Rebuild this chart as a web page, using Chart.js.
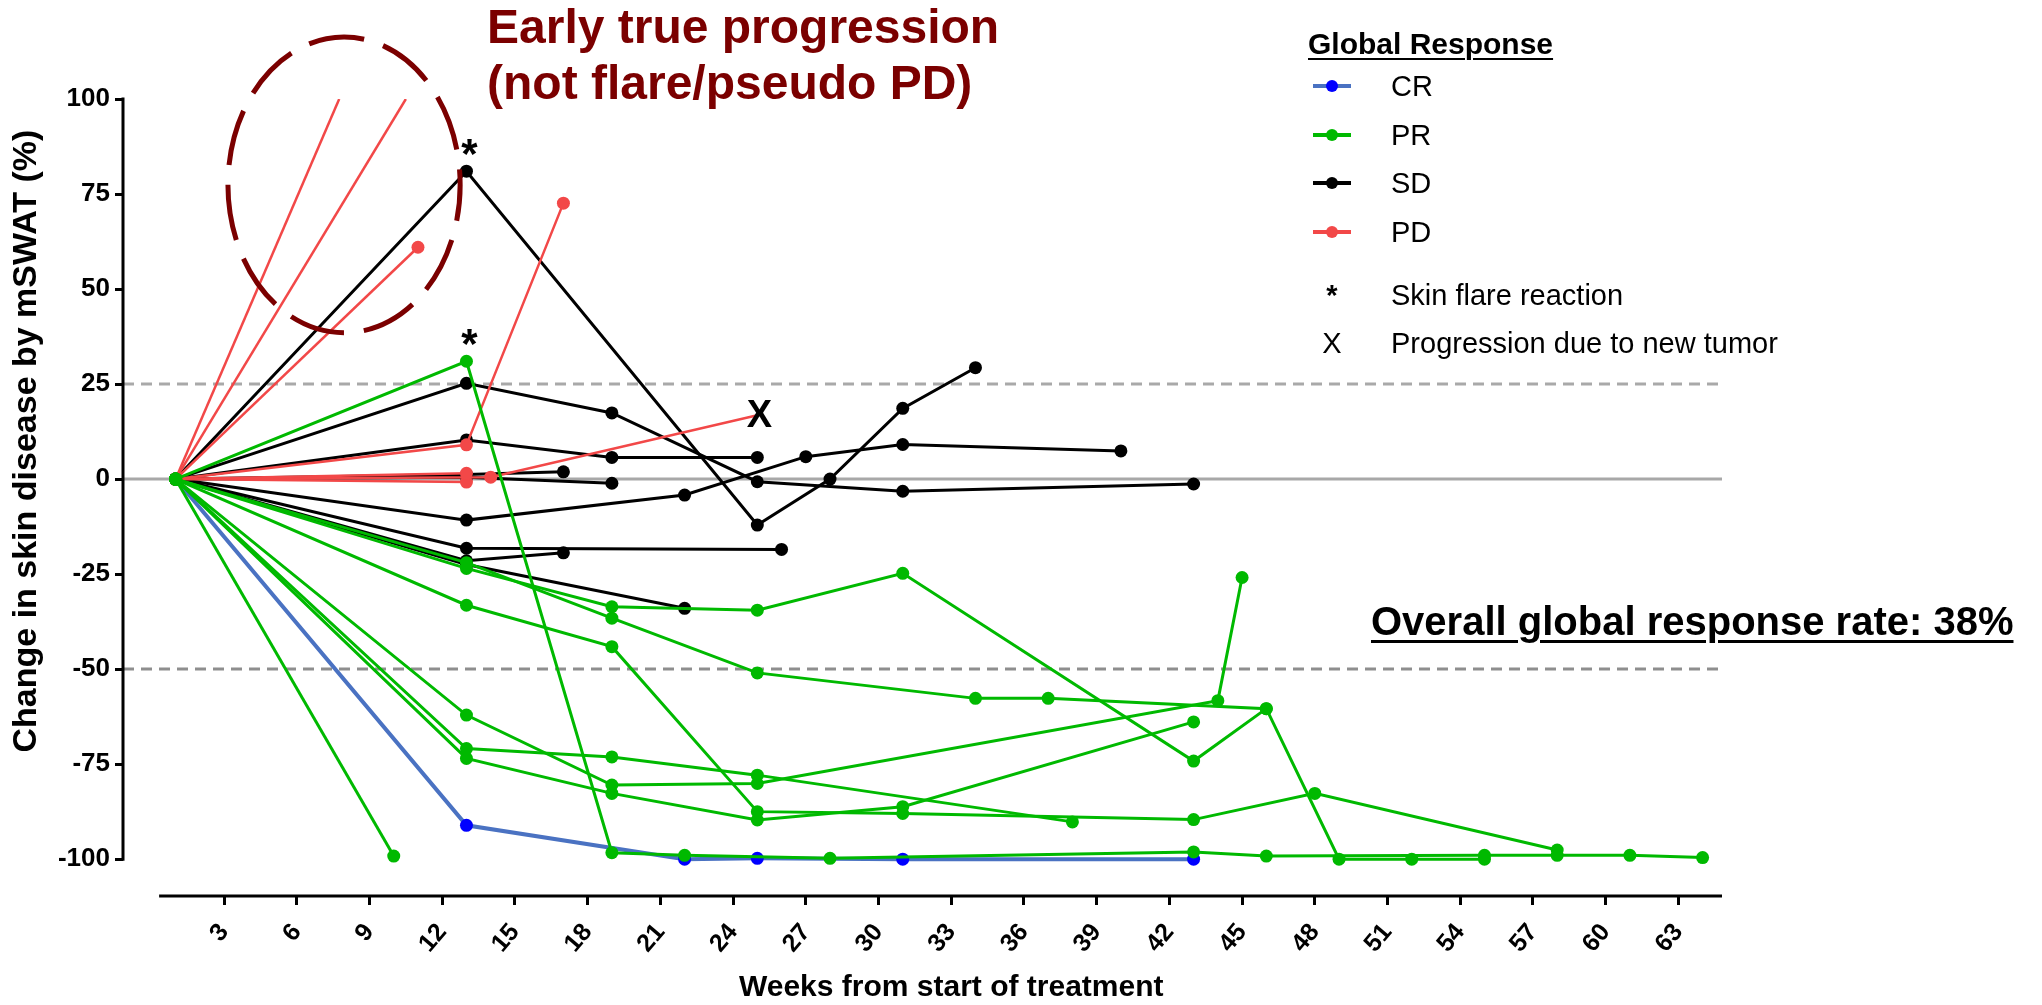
<!DOCTYPE html>
<html>
<head>
<meta charset="utf-8">
<title>Change in skin disease by mSWAT</title>
<script src="https://cdn.jsdelivr.net/npm/chart.js@4.4.1/dist/chart.umd.min.js"></script>
<style>
  html, body { margin: 0; padding: 0; background: #fff; }
  body { font-family: "Liberation Sans", Arial, Helvetica, sans-serif; color: #000; }
  .page { position: relative; width: 2042px; height: 1005px; overflow: hidden; }
  #chart { position: absolute; left: 0; top: 0; }
  .callout { position: absolute; left: 487px; top: -1px; color: #7b0000; font-weight: bold; font-size: 48px; line-height: 56px; white-space: nowrap; }
  .legend-head { position: absolute; left: 1308px; top: 27px; font-weight: bold; font-size: 30px; line-height: 34px; text-decoration: underline; text-decoration-thickness: 2px; text-underline-offset: 4px; white-space: nowrap; }
  .legend-row { position: absolute; left: 1313px; height: 34px; display: flex; align-items: center; font-size: 29px; line-height: 34px; white-space: nowrap; }
  .swatch { position: relative; width: 38px; height: 34px; margin-right: 40px; }
  .swatch .ln { position: absolute; left: 0; right: 0; top: 15px; height: 4px; }
  .swatch .dot { position: absolute; left: 13px; top: 11px; width: 12px; height: 12px; border-radius: 50%; }
  .swatch .sym { position: absolute; left: 0; right: 0; top: 0; text-align: center; }
  .rate { position: absolute; left: 1371px; top: 598px; font-weight: bold; font-size: 40px; line-height: 46px; text-decoration: underline; text-decoration-thickness: 3px; text-underline-offset: 5px; white-space: nowrap; }
</style>
</head>
<body>
<div class="page">
  <canvas id="chart" width="2042" height="1005"></canvas>
  <div class="callout">Early true progression<br>(not flare/pseudo PD)</div>
  <div class="legend-head">Global Response</div>
  <div id="legend"></div>
  <div class="rate">Overall global response rate: 38%</div>
</div>

<script>
// weeks on x, % change in mSWAT on y; every patient starts at week 1, 0%
const xTicks = [3, 6, 9, 12, 15, 18, 21, 24, 27, 30, 33, 36, 39, 42, 45, 48, 51, 54, 57, 60, 63];
const yTicks = [100, 75, 50, 25, 0, -25, -50, -75, -100];
const refValues = [25, 0, -50];
const xTitle = 'Weeks from start of treatment';
const yTitle = 'Change in skin disease by mSWAT (%)';

const crPatients = [
    [[1, 0], [13, -91.1], [22, -100], [25, -99.8], [31, -100], [43, -100]]
];

const prPatients = [
    [[1, 0], [10, -99.2]],
    [[1, 0], [13, 31], [19, -98.3], [22, -99], [28, -99.8], [43, -98.1], [46, -99.2], [55, -99], [58, -99], [61, -99], [64, -99.6]],
    [[1, 0], [13, -23.5], [19, -33.6], [25, -34.5], [31, -24.8], [43, -74.2], [46, -60.4]],
    [[1, 0], [13, -22], [19, -36.6], [25, -51], [34, -57.7], [37, -57.7], [46, -60.4], [49, -100], [52, -100], [55, -100]],
    [[1, 0], [13, -33.2], [19, -44.1], [25, -87.5], [31, -88], [43, -89.6], [48, -82.7], [58, -97.6]],
    [[1, 0], [13, -62.1], [19, -80.5], [25, -80.1], [44, -58.3], [45, -25.9]],
    [[1, 0], [13, -70.9], [19, -73.1], [25, -77.9], [38, -90.2]],
    [[1, 0], [13, -73.5], [19, -82.7], [25, -89.7], [31, -86.2], [43, -63.9]]
];

const sdPatients = [
    [[1, 0], [13, 81], [25, -12.1], [28, 0], [31, 18.6], [34, 29.3]],
    [[1, 0], [13, 25.2], [19, 17.4], [25, -0.7], [31, -3.2], [43, -1.3]],
    [[1, 0], [13, 10.3], [19, 5.7], [25, 5.7]],
    [[1, 0], [13, 1.2], [17, 1.9]],
    [[1, 0], [13, 0.5], [19, -1.1]],
    [[1, 0], [13, -10.8], [22, -4.2], [27, 5.9], [31, 9.1], [40, 7.4]],
    [[1, 0], [13, -18.2], [26, -18.5]],
    [[1, 0], [13, -21.5], [17, -19.4]],
    [[1, 0], [13, -22.5], [22, -34]]
];

// the two steepest PD lines leave the plot at 100%
const pdPatients = [
    [[1, 0], [7.75, 100]],
    [[1, 0], [10.5, 100]],
    [[1, 0], [11, 61]],
    [[1, 0], [13, 9], [17, 72.6]],
    [[1, 0], [13, 1.5]],
    [[1, 0], [13, -0.8]],
    [[1, 0], [14, 0.5], [25, 16.8]]
];

const flarePoints = [[13, 81], [13, 31]];
const newTumorPoint = [25, 16.8];
// dashed ring: centre week, centre %, half width (weeks), half height (%)
const progressionRing = [7.95, 77.4, 4.79, 38.9];

const xMin = -1.17, xMax = 64.8, xAxisStart = 0.32;
const yMin = -109.7, yMax = 100;

const FONT = '"Liberation Sans", Arial, Helvetica, sans-serif';

const groups = [
    { label: 'PR', patients: prPatients, line: '#00b900', dot: '#00b900', width: 3, order: 1 },
    { label: 'CR', patients: crPatients, line: '#4a72c2', dot: '#0000ff', width: 4, order: 2 },
    { label: 'PD', patients: pdPatients, line: '#f24848', dot: '#f24848', width: 2.5, order: 3 },
    { label: 'SD', patients: sdPatients, line: '#000000', dot: '#000000', width: 3, order: 4 }
];

function hasMarker(pt) {
    if (pt[1] >= yMax) return false;
    if (pt[0] === newTumorPoint[0] && pt[1] === newTumorPoint[1]) return false;
    return true;
}

const datasets = [];
groups.forEach(g => {
    g.patients.forEach(p => {
        datasets.push({
            label: g.label,
            data: p.map(([x, y]) => ({ x, y })),
            showLine: true,
            tension: 0,
            borderColor: g.line,
            borderWidth: g.width,
            backgroundColor: g.dot,
            pointBackgroundColor: g.dot,
            pointBorderColor: g.dot,
            pointBorderWidth: 0,
            pointRadius: p.map(pt => hasMarker(pt) ? 6.5 : 0),
            pointHoverRadius: 0,
            order: g.order
        });
    });
});

// legend in the top right corner, over the plot
const legendRows = [
    { text: 'CR', line: '#4a72c2', dot: '#0000ff', y: 86 },
    { text: 'PR', line: '#00b900', dot: '#00b900', y: 135 },
    { text: 'SD', line: '#000000', dot: '#000000', y: 183 },
    { text: 'PD', line: '#f24848', dot: '#f24848', y: 232 },
    { text: 'Skin flare reaction', sym: '*', bold: true, y: 295 },
    { text: 'Progression due to new tumor', sym: 'X', y: 343 }
];
const legend = document.getElementById('legend');
legendRows.forEach(r => {
    const row = document.createElement('div');
    row.className = 'legend-row';
    row.style.top = (r.y - 17) + 'px';
    let swatch;
    if (r.sym) {
        swatch = `<span class="swatch"><span class="sym" style="font-weight:${r.bold ? 'bold' : 'normal'}">${r.sym}</span></span>`;
    } else {
        swatch = `<span class="swatch"><span class="ln" style="background:${r.line}"></span><span class="dot" style="background:${r.dot}"></span></span>`;
    }
    row.innerHTML = swatch + `<span>${r.text}</span>`;
    legend.appendChild(row);
});

const marks = {
    id: 'marks',
    beforeDatasetsDraw(chart) {
        const { ctx, chartArea, scales: { x, y } } = chart;
        ctx.save();
        ctx.lineWidth = 3;
        refValues.forEach(v => {
            const py = y.getPixelForValue(v);
            ctx.beginPath();
            if (v === 0) {
                ctx.setLineDash([]);
                ctx.strokeStyle = '#a8a8a8';
            } else {
                ctx.setLineDash([11, 7]);
                ctx.strokeStyle = v > 0 ? '#a9a9a9' : '#8e8e8e';
            }
            ctx.moveTo(chartArea.left, py);
            ctx.lineTo(x.getPixelForValue(xMax), py);
            ctx.stroke();
        });
        ctx.restore();
    },
    afterDatasetsDraw(chart) {
        const { ctx, chartArea, scales: { x, y } } = chart;
        ctx.save();

        // axis lines (y stops at -100, x starts just right of the y axis)
        ctx.strokeStyle = '#000';
        ctx.lineWidth = 3;
        ctx.setLineDash([]);
        ctx.beginPath();
        ctx.moveTo(chartArea.left, y.getPixelForValue(yMax) - 1.5);
        ctx.lineTo(chartArea.left, y.getPixelForValue(-100) + 1.5);
        ctx.stroke();
        ctx.beginPath();
        ctx.moveTo(x.getPixelForValue(xAxisStart), chartArea.bottom);
        ctx.lineTo(x.getPixelForValue(xMax), chartArea.bottom);
        ctx.stroke();

        // axis titles
        ctx.fillStyle = '#000';
        ctx.textAlign = 'center';
        ctx.textBaseline = 'middle';
        ctx.font = 'bold 30px ' + FONT;
        ctx.fillText(xTitle, x.getPixelForValue(33), 988);
        ctx.save();
        ctx.translate(27, y.getPixelForValue(10));
        ctx.rotate(-Math.PI / 2);
        ctx.font = 'bold 34px ' + FONT;
        ctx.fillText(yTitle, 0, 0);
        ctx.restore();

        // dashed ring round the early progressors
        const [cw, cv, hw, hv] = progressionRing;
        const cx = x.getPixelForValue(cw), cy = y.getPixelForValue(cv);
        const rx = x.getPixelForValue(cw + hw) - cx;
        const ry = cy - y.getPixelForValue(cv + hv);
        ctx.beginPath();
        ctx.strokeStyle = '#7b0000';
        ctx.lineWidth = 5;
        ctx.setLineDash([56, 20]);
        ctx.lineDashOffset = 20;
        ctx.ellipse(cx, cy, rx, ry, 0, 0, Math.PI * 2);
        ctx.stroke();
        ctx.setLineDash([]);

        // flare asterisks and the new-tumour X
        ctx.fillStyle = '#000';
        ctx.textAlign = 'center';
        ctx.textBaseline = 'alphabetic';
        ctx.font = 'bold 42px ' + FONT;
        flarePoints.forEach(([w, v]) => {
            ctx.fillText('*', x.getPixelForValue(w) + 3, y.getPixelForValue(v) - 3);
        });
        ctx.font = 'bold 38px ' + FONT;
        ctx.textBaseline = 'middle';
        ctx.fillText('X', x.getPixelForValue(newTumorPoint[0]) + 2, y.getPixelForValue(newTumorPoint[1]) + 1);
        ctx.restore();
    }
};

const tickGrid = (len) => ({
    drawOnChartArea: false,
    drawTicks: true,
    tickLength: len,
    tickWidth: 3,
    tickColor: '#000',
    color: '#000',
    lineWidth: 3
});

new Chart(document.getElementById('chart'), {
    type: 'scatter',
    data: { datasets },
    options: {
        responsive: false,
        animation: false,
        devicePixelRatio: 1,
        layout: { padding: { left: 0, top: 99, right: 320, bottom: 0 } },
        plugins: {
            legend: { display: false },
            tooltip: { enabled: false }
        },
        scales: {
            x: {
                type: 'linear',
                min: xMin,
                max: xMax,
                afterBuildTicks: s => { s.ticks = xTicks.map(v => ({ value: v })); },
                afterFit: s => { s.height = 109; },
                grid: tickGrid(9),
                border: { display: false },
                ticks: {
                    autoSkip: false,
                    minRotation: 50,
                    maxRotation: 50,
                    padding: 13,
                    color: '#000',
                    font: { family: FONT, size: 25, weight: 'bold' }
                },
                title: { display: false }
            },
            y: {
                type: 'linear',
                min: yMin,
                max: yMax,
                afterBuildTicks: s => { s.ticks = yTicks.map(v => ({ value: v })); },
                afterFit: s => { s.width = 123; },
                grid: tickGrid(8),
                border: { display: false },
                ticks: {
                    padding: 5,
                    color: '#000',
                    font: { family: FONT, size: 26, weight: 'bold' }
                },
                title: { display: false }
            }
        }
    },
    plugins: [marks]
});
</script>
</body>
</html>
